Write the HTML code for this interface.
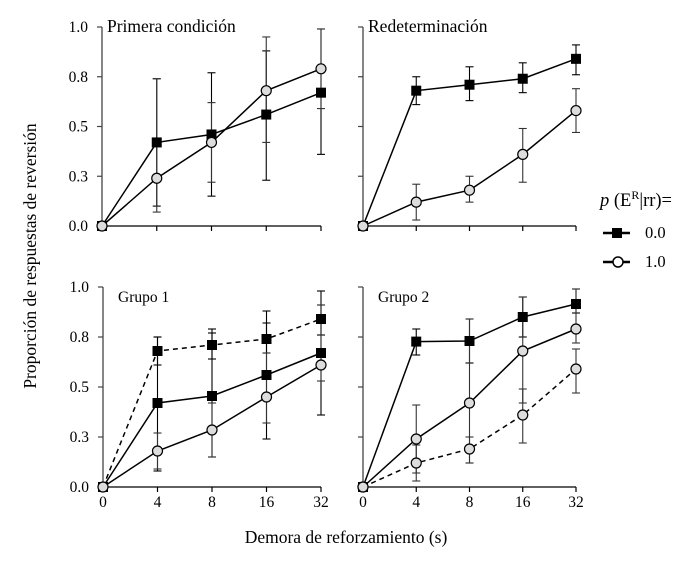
<!DOCTYPE html>
<html><head><meta charset="utf-8"><style>
body{margin:0;background:#fff;}
svg{display:block;font-family:"Liberation Serif",serif;}
</style></head><body>
<svg id="chart" width="699" height="561" viewBox="0 0 699 561" xmlns="http://www.w3.org/2000/svg"></svg>
<script>
const categories=["0","4","8","16","32"];
const yTicks=[0,0.25,0.5,0.75,1];
const yTickLabels=["0.0","0.3","0.5","0.8","1.0"];
// Primera condición
const p1Sq=[0,0.42,0.46,0.56,0.67], p1SqLo=[0,0.10,0.15,0.23,0.36], p1SqHi=[0,0.74,0.77,0.88,0.99];
const p1Ci=[0,0.24,0.42,0.68,0.79], p1CiLo=[0,0.07,0.22,0.42,0.59], p1CiHi=[0,0.74,0.62,0.95,0.99];
// Redeterminación
const p2Sq=[0,0.68,0.71,0.74,0.84], p2SqLo=[0,0.61,0.63,0.67,0.76], p2SqHi=[0,0.75,0.80,0.82,0.91];
const p2Ci=[0,0.12,0.18,0.36,0.58], p2CiLo=[0,0.03,0.12,0.22,0.47], p2CiHi=[0,0.21,0.25,0.49,0.69];
// Grupo 1
const g1Re=[0,0.68,0.71,0.74,0.84], g1ReLo=[0,0.61,0.64,0.67,0.76], g1ReHi=[0,0.75,0.79,0.82,0.91];
const g1Sq=[0,0.42,0.455,0.56,0.67], g1SqLo=[0,0.08,0.15,0.24,0.36], g1SqHi=[0,0.75,0.77,0.88,0.98];
const g1Ci=[0,0.18,0.285,0.45,0.61], g1CiLo=[0,0.09,0.15,0.32,0.53], g1CiHi=[0,0.27,0.42,0.67,0.91];
// Grupo 2
const g2Sq=[0,0.727,0.73,0.85,0.915], g2SqLo=[0,0.66,0.62,0.75,0.87], g2SqHi=[0,0.79,0.84,0.95,0.99];
const g2Ci=[0,0.24,0.42,0.68,0.79], g2CiLo=[0,0.07,0.12,0.42,0.72], g2CiHi=[0,0.41,0.84,0.95,0.99];
const g2Re=[0,0.12,0.19,0.36,0.59], g2ReLo=[0,0.03,0.12,0.22,0.47], g2ReHi=[0,0.21,0.25,0.49,0.69];

const svg=document.getElementById('chart');
const NS="http://www.w3.org/2000/svg";
function mk(tag,attrs,parent){const e=document.createElementNS(NS,tag);for(const k in attrs)e.setAttribute(k,attrs[k]);(parent||svg).appendChild(e);return e;}

function panel(name,x0,x1,yTop,yBot,title,labelsY,labelsX,series){
  const g=mk('g',{});
  
  
  const xs=i=>x0+(x1-x0)*i/(categories.length-1);
  const ys=v=>yBot-(yBot-yTop)*v;
  const ya=mk('line',{x1:x0,y1:yTop,x2:x0,y2:yBot,stroke:'#444','stroke-width':1.3},g);
  
  const xa=mk('line',{x1:x0,y1:yBot,x2:x1,y2:yBot,stroke:'#000','stroke-width':1.3},g);
  
  yTicks.forEach((t,i)=>{
    mk('line',{x1:x0-5,y1:ys(t),x2:x0,y2:ys(t),stroke:'#444','stroke-width':1.2},g);
    if(labelsY){const tx=mk('text',{x:x0-14,y:ys(t)+5,'text-anchor':'end','font-size':15.5},g);tx.textContent=yTickLabels[i];
      }
  });
  categories.forEach((c,i)=>{
    if(i>0)mk('line',{x1:xs(i),y1:yBot,x2:xs(i),y2:yBot+5,stroke:'#000','stroke-width':1.2},g);
    if(labelsX){const tx=mk('text',{x:xs(i),y:yBot+20,'text-anchor':'middle','font-size':15.5},g);tx.textContent=c;
      }
  });
  const top=name.indexOf('top')===0;
  const tt=mk('text',{x:x0+(top?5:15),y:yTop+(top?5:15),'font-size':top?17.5:15.5},g);
  tt.textContent=title;
  series.forEach(s=>{
    s.v.forEach((v,i)=>{ if(i===0)return;
      const eb=mk('g',{stroke:s.fill==='#000'?'#000':'#333','stroke-width':1.1},g);
      
      mk('line',{x1:xs(i),y1:ys(s.lo[i]),x2:xs(i),y2:ys(s.hi[i])},eb);
      mk('line',{x1:xs(i)-4,y1:ys(s.lo[i]),x2:xs(i)+4,y2:ys(s.lo[i])},eb);
      mk('line',{x1:xs(i)-4,y1:ys(s.hi[i]),x2:xs(i)+4,y2:ys(s.hi[i])},eb);
    });
  });
  series.forEach(s=>{
    const pl=mk('polyline',{points:s.v.map((v,i)=>xs(i)+','+ys(v)).join(' '),fill:'none',stroke:'#000','stroke-width':1.5,'stroke-dasharray':s.dash?'5,4':'none'},g);
    
  });
  series.forEach(s=>{
    s.v.forEach((v,i)=>{
      let m;
      if(s.shape==='sq') m=mk('rect',{x:xs(i)-5,y:ys(v)-5,width:10,height:10,fill:'#000'},g);
      else m=mk('circle',{cx:xs(i),cy:ys(v),r:5,fill:'#ddd',stroke:'#000','stroke-width':1.2},g);
      
    });
  });
}
panel('top-left-panel',102,321,27,226,'Primera condición',true,false,[
  {name:'p00',shape:'sq',v:p1Sq,lo:p1SqLo,hi:p1SqHi,fill:'#000'},
  {name:'p10',shape:'ci',v:p1Ci,lo:p1CiLo,hi:p1CiHi}]);
panel('top-right-panel',363,576,27,226,'Redeterminación',false,false,[
  {name:'p00',shape:'sq',v:p2Sq,lo:p2SqLo,hi:p2SqHi,fill:'#000'},
  {name:'p10',shape:'ci',v:p2Ci,lo:p2CiLo,hi:p2CiHi}]);
panel('bottom-left-panel',103,321,287,487,'Grupo 1',true,true,[
  {name:'redet',shape:'sq',v:g1Re,lo:g1ReLo,hi:g1ReHi,fill:'#000',dash:true},
  {name:'p00',shape:'sq',v:g1Sq,lo:g1SqLo,hi:g1SqHi,fill:'#000'},
  {name:'p10',shape:'ci',v:g1Ci,lo:g1CiLo,hi:g1CiHi}]);
panel('bottom-right-panel',363,576,287,487,'Grupo 2',false,true,[
  {name:'p00',shape:'sq',v:g2Sq,lo:g2SqLo,hi:g2SqHi,fill:'#000'},
  {name:'p10',shape:'ci',v:g2Ci,lo:g2CiLo,hi:g2CiHi},
  {name:'redet',shape:'ci',v:g2Re,lo:g2ReLo,hi:g2ReHi,dash:true}]);
</script>
<svg style="position:absolute;left:0;top:0" width="699" height="561" xmlns="http://www.w3.org/2000/svg">
  <text transform="translate(36,256) rotate(-90)" text-anchor="middle" font-size="17.5">Proporción de respuestas de reversión</text>
  <text x="346" y="543" text-anchor="middle" font-size="17.5">Demora de reforzamiento (s)</text>
  <g>
    <text x="600" y="206" font-size="18.5"><tspan font-style="italic">p</tspan> (E<tspan font-size="12" dy="-7">R</tspan><tspan dy="7">|rr)=</tspan></text>
    <g>
      <line x1="603" y1="233" x2="630" y2="233" stroke="#000" stroke-width="2.5"/>
      <rect x="612" y="228" width="10" height="10" fill="#000"/>
      <text x="645" y="238" font-size="16.5">0.0</text>
    </g>
    <g>
      <line x1="603" y1="262" x2="630" y2="262" stroke="#000" stroke-width="2.5"/>
      <circle cx="618" cy="262" r="5" fill="#fff" stroke="#000" stroke-width="1.5"/>
      <text x="645" y="267" font-size="16.5">1.0</text>
    </g>
  </g>
</svg>
</body></html>
